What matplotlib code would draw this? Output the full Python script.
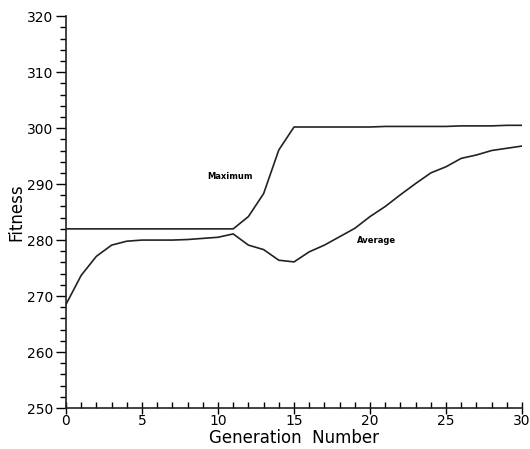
import matplotlib
matplotlib.use("Agg")
import matplotlib.pyplot as plt
from matplotlib.ticker import MultipleLocator

generation = list(range(31))
maximum = [282, 282, 282, 282, 282, 282, 282, 282, 282, 282, 282, 282,
           284.2, 288.3, 296.1, 300.2, 300.2, 300.2, 300.2, 300.2, 300.2,
           300.3, 300.3, 300.3, 300.3, 300.3, 300.4, 300.4, 300.4, 300.5, 300.5]
average = [268.5, 273.7, 277.1, 279.1, 279.8, 280.0, 280.0, 280.0, 280.1, 280.3,
           280.5, 281.1, 279.1, 278.3, 276.4, 276.1, 277.9, 279.1, 280.6, 282.1,
           284.2, 286.0, 288.1, 290.1, 292.0, 293.1, 294.6, 295.2, 296.0, 296.4,
           296.8]


def main():
    fig = plt.figure(figsize=(5.3, 4.49), dpi=100)
    ax = fig.add_axes([0.1245, 0.0913, 0.8605, 0.8727])

    ax.plot(generation, maximum, color="#222222", lw=1.2)
    ax.plot(generation, average, color="#222222", lw=1.2)

    ax.text(10.8, 291.4, "Maximum", fontsize=6, fontweight="bold", ha="center", va="center")
    ax.text(20.4, 279.9, "Average", fontsize=6, fontweight="bold", ha="center", va="center")

    ax.set_xlim(0, 30)
    ax.set_ylim(250, 320)
    ax.xaxis.set_major_locator(MultipleLocator(5))
    ax.xaxis.set_minor_locator(MultipleLocator(1))
    ax.yaxis.set_major_locator(MultipleLocator(10))
    ax.yaxis.set_minor_locator(MultipleLocator(2))

    for side in ["top", "right"]:
        ax.spines[side].set_visible(False)
    for side in ["left", "bottom"]:
        ax.spines[side].set_color("#222222")
        ax.spines[side].set_linewidth(1.2)

    ax.tick_params(axis="y", which="major", direction="out", length=7, width=1, labelsize=10, pad=2)
    ax.tick_params(axis="y", which="minor", direction="out", length=4, width=1)
    ax.tick_params(axis="x", which="major", direction="inout", length=8, width=1, labelsize=10, pad=0)
    ax.tick_params(axis="x", which="minor", direction="in", length=4, width=1)

    ax.set_xlabel("Generation  Number", fontsize=12, labelpad=1)
    ax.set_ylabel("Fitness", fontsize=12, labelpad=1)

    fig.savefig("out.png", dpi=100)


if __name__ == "__main__":
    main()
